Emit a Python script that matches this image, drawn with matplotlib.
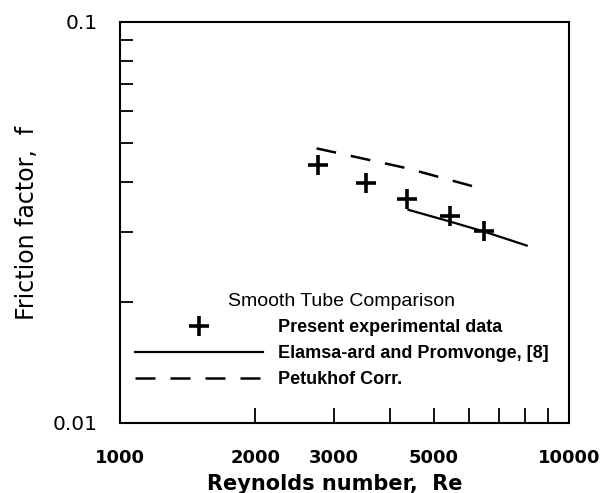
import matplotlib.pyplot as plt
from matplotlib.ticker import NullFormatter

# Datos
re_exp = [2765, 3525, 4350, 5430, 6480]
f_exp = [0.0440, 0.0397, 0.0362, 0.0328, 0.0302]

re_elamsa = [4390, 5430, 6480, 8050]
f_elamsa = [0.0340, 0.0318, 0.0300, 0.0277]

re_petukhov = [2740, 4350, 6230]
f_petukhov = [0.0484, 0.0432, 0.0387]

x_major = [1000, 2000, 3000, 5000, 10000]
x_major_labels = ['1000', '2000', '3000', '5000', '10000']
x_minor = [4000, 6000, 7000, 8000, 9000]
y_major = [0.01, 0.1]
y_major_labels = ['0.01', '0.1']
y_minor = [0.02, 0.03, 0.04, 0.05, 0.06, 0.07, 0.08, 0.09]

fig = plt.figure(figsize=(6.05, 4.93), dpi=100)
ax = fig.add_axes([0.1983, 0.142, 0.7422, 0.8134])
ax.set_xscale('log')
ax.set_yscale('log')

ax.plot(re_exp, f_exp, linestyle='none', marker='+', markersize=14, markeredgewidth=2.6,
        color='black', label='Present experimental data', zorder=5)
ax.plot(re_elamsa, f_elamsa, '-', color='black', linewidth=1.6,
        label='Elamsa-ard and Promvonge, [8]')
ax.plot(re_petukhov, f_petukhov, color='black', linewidth=1.8, dashes=(8, 6),
        label='Petukhof Corr.')

ax.set_xlim(1000, 10000)
ax.set_ylim(0.01, 0.1)

ax.set_xticks(x_major)
ax.set_xticklabels(x_major_labels, fontfamily='DejaVu Sans', fontweight='bold', fontsize=13)
ax.set_xticks(x_minor, minor=True)
ax.xaxis.set_minor_formatter(NullFormatter())
ax.set_yticks(y_major)
ax.set_yticklabels(y_major_labels, fontfamily='DejaVu Sans', fontsize=14.5)
ax.set_yticks(y_minor, minor=True)
ax.yaxis.set_minor_formatter(NullFormatter())

ax.tick_params(axis='x', which='both', direction='in', length=10.8, width=1.3, pad=19)
ax.tick_params(axis='y', which='both', direction='in', length=9.5, width=1.3, pad=16)
for s in ax.spines.values():
    s.set_linewidth(1.5)

ax.set_xlabel('Reynolds number,  Re', fontfamily='DejaVu Sans', fontweight='bold', fontsize=15)
ax.xaxis.set_label_coords(0.479, -0.126)
ax.set_ylabel('Friction factor,  f', fontfamily='DejaVu Sans', fontsize=17, labelpad=10)

leg = ax.legend(loc='upper left', bbox_to_anchor=(0.0334, 0.324), frameon=False,
                title='Smooth Tube Comparison', numpoints=1,
                prop={'family': 'Liberation Sans', 'weight': 'bold', 'size': 13},
                title_fontproperties={'family': 'Liberation Sans', 'size': 14},
                handlelength=7.1, handletextpad=0.83, labelspacing=0.5,
                borderpad=0, borderaxespad=0)

plt.savefig('out.png', dpi=100)
